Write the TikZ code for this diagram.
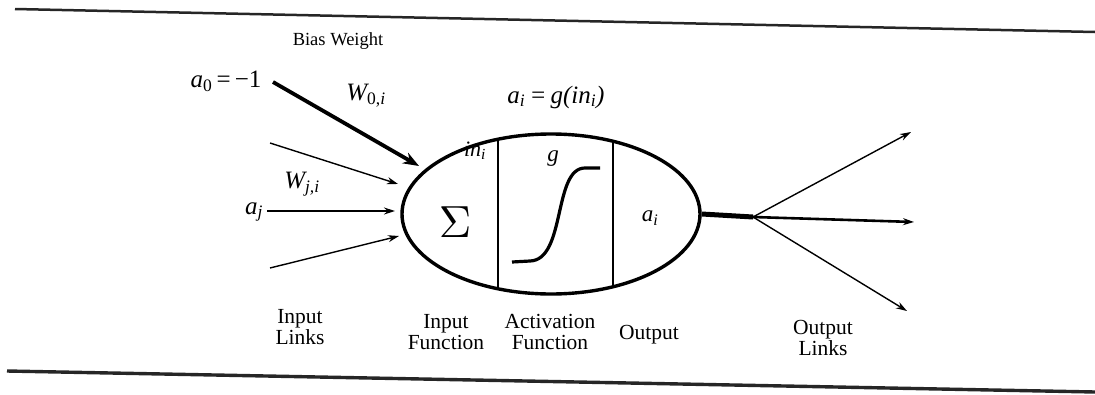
\documentclass[tikz,border=0pt]{standalone}
\usepackage{fontspec}
\setmainfont{Liberation Serif}
\usetikzlibrary{arrows.meta,shapes.geometric,calc}
\newcommand{\sbi}[1]{\textsubscript{#1}}
\begin{document}
\begin{tikzpicture}[x=1pt,y=-1pt,
  rule/.style={line width=2.5pt,black!85},
  inarrow/.style={line width=1.4pt,-{Stealth[length=11pt,width=7pt]}},
  biasarrow/.style={line width=3.8pt,-{Stealth[length=16pt,width=12pt]}},
  outarrow/.style={line width=1.4pt,-{Stealth[length=11pt,width=7pt]}},
  mathlbl/.style={font=\fontsize{25}{27}\selectfont\itshape,inner sep=0pt},
  caption/.style={font=\fontsize{21.5}{20.5}\selectfont,align=center,inner sep=0pt},
  divider/.style={line width=1.8pt}
]
\useasboundingbox (0,0) rectangle (1095,394);
% frame rules
\coordinate (tl) at (15,9); \coordinate (tr) at (1095,32);
\coordinate (bl) at (7,371); \coordinate (br) at (1095,392);
\draw[rule] (tl) -- (tr);
\draw[rule,line width=3.4pt] (bl) -- (br);

% neuron body
\node[ellipse,draw,line width=3.4pt,minimum width=298pt,minimum height=160pt,inner sep=0pt] (neuron) at (551,214) {};
\draw[divider] ($(neuron.center)+(-53,-74.8)$) coordinate (d1t) -- ($(neuron.center)+(-53,74.8)$) coordinate (d1b);
\draw[divider] ($(neuron.center)+(62,-72.8)$) coordinate (d2t) -- ($(neuron.center)+(62,72.8)$) coordinate (d2b);

% contents
\node[scale=4.5,inner sep=0pt] (sigma) at (455,222) {$\Sigma$};
\node[font=\fontsize{22}{24}\selectfont\itshape,inner sep=0pt] (ini) at (475,151) {in\sbi{i}};
\node[font=\fontsize{23}{24}\selectfont\itshape,inner sep=0pt] (gl) at (553,159) {g};
\node[font=\fontsize{23}{24}\selectfont\itshape,inner sep=0pt] (aiin) at (650,218) {a\sbi{i}};
\coordinate (s0) at (512,262); \coordinate (s1) at (530,261);
\coordinate (s2) at (585,168); \coordinate (s3) at (600,168);
\draw[line width=3.2pt] (s0) -- (s1) .. controls (566,260) and (553,168) .. (s2) -- (s3);

% labels above
\node[mathlbl] (agi) at (556,97) {a\sbi{i}\,=\,g(in\sbi{i})};
\node[font=\fontsize{18.5}{19}\selectfont,inner sep=0pt] (bias) at (338,41) {Bias Weight};
\node[mathlbl] (a0) at (226,81) {a\sbi{\upshape 0}\,\upshape =\,−1};
\node[mathlbl] (w0i) at (366,96) {W\sbi{\upshape 0,\itshape i}};
\node[mathlbl] (wji) at (302,184) {W\sbi{j,i}};
\node[mathlbl] (aj) at (254,212) {a\sbi{j}};

% input links
\coordinate (b0) at (273,82);  \coordinate (b1) at (419,166);
\coordinate (u0) at (270,143); \coordinate (u1) at (398,184);
\coordinate (m1) at (395,211);
\coordinate (l0) at (270,268); \coordinate (l1) at (399,236);
\draw[biasarrow] (b0) -- (b1);
\draw[inarrow] (u0) -- (u1);
\draw[inarrow] (aj.east) ++(4,-1) coordinate (m0) -- (m1);
\draw[inarrow] (l0) -- (l1);

% output links
\coordinate (junc) at (753,217);
\draw[line width=5pt] (neuron.east) -- (junc);
\coordinate (o1) at (911,132); \coordinate (o2) at (914,222); \coordinate (o3) at (907,311);
\draw[outarrow] (junc) -- (o1);
\draw[outarrow,line width=2.6pt] (junc) -- (o2);
\draw[outarrow] (junc) -- (o3);

% captions
\node[caption] (inlinks) at (300,327) {Input\\Links};
\node[caption] (infunc) at (446,332) {Input\\Function};
\node[caption] (actfunc) at (550,332) {Activation\\Function};
\node[caption] (outp) at (649,335) {Output};
\node[caption] (outlinks) at (823,338) {Output\\Links};
\end{tikzpicture}
\end{document}
